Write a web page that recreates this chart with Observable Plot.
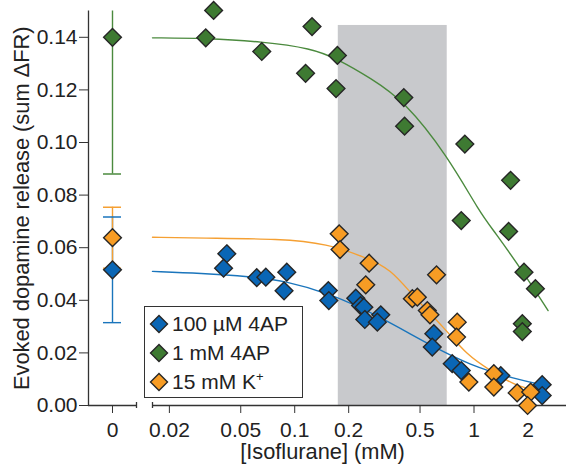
<!DOCTYPE html>
<html>
<head>
<meta charset="utf-8">
<script src="https://cdn.jsdelivr.net/npm/d3@7"></script>
<script src="https://cdn.jsdelivr.net/npm/@observablehq/plot@0.6"></script>
<style>
  body { margin: 0; background: #fff; }
  #wrap { position: relative; width: 566px; height: 470px; font-family: 'Liberation Sans', Arial, sans-serif; }
  #wrap svg { position: absolute; left: 0; top: 0; }
  #legend { position: absolute; left: 144px; top: 306px; width: 159px; height: 92px; box-sizing: border-box;
    border: 1.3px solid #333; background: #fff; font-size: 21px; color: #222; padding-top: 2px; }
  #legend .row { height: 29px; display: flex; align-items: center; }
  #legend svg { position: static; margin-left: 4px; margin-right: 3px; }
  #legend sup { font-size: 13px; vertical-align: 8px; line-height: 0; }
</style>
</head>
<body>
<div id="wrap"></div>
<script>
// ---- series ----
const seriesNames = ["100 µM 4AP", "1 mM 4AP", "15 mM K+"];
const fillColors = ["#0a66b5", "#3e7a32", "#f79c24"];
const lineColors = ["#1a75bc", "#4b8a3e", "#f5a033"];

// ---- controls (0 mM isoflurane): mean and error ----
const controlX = [0, 0, 0];
const controlMean = [0.0516, 0.140, 0.0638];
const controlErr = [0.0201, 0.052, 0.0116];

// ---- isoflurane data points ----
const blueX = [0.0418,0.0401,0.0614,0.069,0.0903,0.0872,0.154,0.155,0.219,0.233,0.243,0.246,0.302,0.289,0.597,0.585,0.756,0.849,1.41,2.40,2.40];
const blueY = [0.0577,0.0522,0.0486,0.0488,0.0507,0.0436,0.0437,0.0399,0.0408,0.0380,0.0374,0.0327,0.0345,0.0317,0.0273,0.0222,0.0159,0.0133,0.0114,0.0079,0.0038];
const greenX = [0.0353,0.0319,0.0655,0.1249,0.173,0.115,0.170,0.406,0.410,0.889,1.60,0.849,1.56,1.90,2.20,1.86,1.86];
const greenY = [0.1502,0.1398,0.1346,0.1441,0.1331,0.1263,0.1205,0.1171,0.1062,0.0994,0.0856,0.0703,0.0662,0.0507,0.0444,0.0311,0.0281];
const orangeX = [0.177,0.179,0.260,0.249,0.618,0.453,0.483,0.549,0.568,0.806,0.799,0.936,1.29,1.29,1.74,2.07,1.99];
const orangeY = [0.0653,0.0593,0.0541,0.0459,0.0497,0.0406,0.0412,0.0361,0.0345,0.0317,0.0260,0.0089,0.0121,0.0070,0.0048,0.0051,0.0000];

// ---- fitted curves ----
const blueCurveX = [0.0161,0.030,0.0569,0.0872,0.159,0.302,0.549,0.956,1.67,2.50];
const blueCurveY = [0.0510,0.0503,0.0490,0.0475,0.0425,0.0336,0.0235,0.0152,0.0102,0.0076];
const greenCurveX = [0.0161,0.0319,0.0655,0.1244,0.173,0.265,0.406,0.709,1.088,1.29,1.90,2.59];
const greenCurveY = [0.1398,0.1396,0.1384,0.1358,0.1318,0.1245,0.1160,0.0951,0.0729,0.0665,0.0503,0.0361];
const orangeCurveX = [0.0161,0.030,0.0836,0.152,0.246,0.343,0.462,0.679,0.917,1.236,1.74,2.35];
const orangeCurveY = [0.0640,0.0636,0.0634,0.0615,0.0564,0.0520,0.0412,0.0298,0.0190,0.0133,0.0070,0.0057];

// ---- shaded clinical range ----
const shadeX = [0.175, 0.709];
const shadeTop = 0.1445;

// ---- axes ----
const yDomain = [0, 0.15];
const yTicks = [0, 0.02, 0.04, 0.06, 0.08, 0.10, 0.12, 0.14];
const xDomainA = [-0.5, 0.5];
const xTicksA = [0];
const xTickLabelsA = ["0"];
const xDomainB = [0.0161, 3.28];
const xTicksB = [0.02, 0.05, 0.1, 0.2, 0.5, 1, 2];
const xTickLabelsB = ["0.02", "0.05", "0.1", "0.2", "0.5", "1", "2"];
const yLabel = "Evoked dopamine release (sum ΔFR)";
const xLabel = "[Isoflurane] (mM)";

// ---- build tables ----
const controls = seriesNames.map((s, i) => ({series: s, x: controlX[i], y: controlMean[i],
  lo: controlMean[i] - controlErr[i], hi: controlMean[i] + controlErr[i]}));
const ptsFor = (s, X, Y) => X.map((x, i) => ({series: s, x, y: Y[i]}));
const bluePts = ptsFor(seriesNames[0], blueX, blueY);
const greenPts = ptsFor(seriesNames[1], greenX, greenY);
const orangePts = ptsFor(seriesNames[2], orangeX, orangeY);
const curves = [
  ...ptsFor(seriesNames[0], blueCurveX, blueCurveY),
  ...ptsFor(seriesNames[1], greenCurveX, greenCurveY),
  ...ptsFor(seriesNames[2], orangeCurveX, orangeCurveY)
];

const W = 566, H = 470, MT = 10.5, MB = 65;
const font = "'Liberation Sans', Arial, sans-serif";
const baseStyle = {background: "transparent", fontFamily: font, fontSize: "21px", color: "#222", overflow: "visible"};
const colorScale = {domain: seriesNames, range: fillColors};
const dotOpts = {x: "x", y: "y", symbol: () => "diamond2", r: 8, fill: "series", stroke: "#262626", strokeWidth: 1.4};
const lineColor = (d) => lineColors[seriesNames.indexOf(d.series)];

// left panel: controls at 0
const plotA = Plot.plot({
  width: W, height: H, marginLeft: 88, marginRight: W - 136, marginTop: MT, marginBottom: MB,
  style: baseStyle,
  x: {type: "linear", domain: xDomainA},
  y: {domain: yDomain},
  color: colorScale,
  marks: [
    Plot.ruleX([xDomainA[0]], {stroke: "#333", strokeWidth: 1.3}),
    Plot.ruleY([0], {stroke: "#333", strokeWidth: 1.3}),
    Plot.ruleX([xDomainA[1]], {y1: 0, y2: 0, insetTop: -3, insetBottom: -3, stroke: "#333", strokeWidth: 1.3}),
    Plot.axisY({ticks: yTicks, tickFormat: d3.format(".2f"), tickSize: 9, tickPadding: 2, fontSize: 21, label: null, stroke: "#333"}),
    Plot.axisX({ticks: xTicksA, tickFormat: (d, i) => xTickLabelsA[i], tickSize: 8, tickPadding: 9, fontSize: 21, label: null, stroke: "#333"}),
    Plot.text([yLabel], {frameAnchor: "left", textAnchor: "middle", lineAnchor: "middle", rotate: -90, dx: -66, fontSize: 21.8, fill: "#222"}),
    Plot.ruleX(controls, {x: "x", y1: "lo", y2: "hi", stroke: lineColor, strokeWidth: 1.4, clip: true}),
    Plot.ruleY(controls, {y: "hi", insetLeft: 15, insetRight: 15, stroke: lineColor, strokeWidth: 1.4, clip: true}),
    Plot.ruleY(controls, {y: "lo", insetLeft: 15, insetRight: 15, stroke: lineColor, strokeWidth: 1.4, clip: true}),
    Plot.dot([controls[1], controls[2], controls[0]], dotOpts)
  ]
});

// right panel: log isoflurane axis
const plotB = Plot.plot({
  width: W, height: H, marginLeft: 152, marginRight: 0, marginTop: MT, marginBottom: MB,
  style: baseStyle,
  x: {type: "log", domain: xDomainB},
  y: {domain: yDomain, axis: null},
  color: colorScale,
  marks: [
    Plot.rect([{x1: shadeX[0], x2: shadeX[1], y1: 0, y2: shadeTop}], {x1: "x1", x2: "x2", y1: "y1", y2: "y2", fill: "#c8c9cc"}),
    Plot.ruleY([0], {stroke: "#333", strokeWidth: 1.3}),
    Plot.ruleX([xDomainB[0]], {y1: 0, y2: 0, insetTop: -3, insetBottom: -3, stroke: "#333", strokeWidth: 1.3}),
    Plot.axisX({ticks: xTicksB, tickFormat: (d) => xTickLabelsB[xTicksB.indexOf(d)], tickSize: 8, tickPadding: 9, fontSize: 21, label: null, stroke: "#333"}),
    Plot.text([xLabel], {frameAnchor: "bottom", textAnchor: "middle", lineAnchor: "middle", dx: -37, dy: 47, fontSize: 21.8, fill: "#222"}),
    Plot.line(curves, {x: "x", y: "y", z: "series", stroke: lineColor, strokeWidth: 1.4, curve: "basis"}),
    Plot.dot(greenPts, dotOpts),
    Plot.dot(bluePts, dotOpts),
    Plot.dot(orangePts, dotOpts)
  ]
});

const wrap = document.getElementById("wrap");
wrap.appendChild(plotA);
wrap.appendChild(plotB);

// legend
const legend = document.createElement("div");
legend.id = "legend";
const legendLabels = ["100 µM 4AP", "1 mM 4AP", "15 mM K<sup>+</sup>"];
seriesNames.forEach((s, i) => {
  const row = document.createElement("div");
  row.className = "row";
  row.innerHTML = `<svg width="20" height="20" viewBox="0 0 20 20"><polygon points="10,1.5 18.5,10 10,18.5 1.5,10" fill="${fillColors[i]}" stroke="#262626" stroke-width="1.4"/></svg><span>${legendLabels[i]}</span>`;
  legend.appendChild(row);
});
wrap.appendChild(legend);
</script>
</body>
</html>
